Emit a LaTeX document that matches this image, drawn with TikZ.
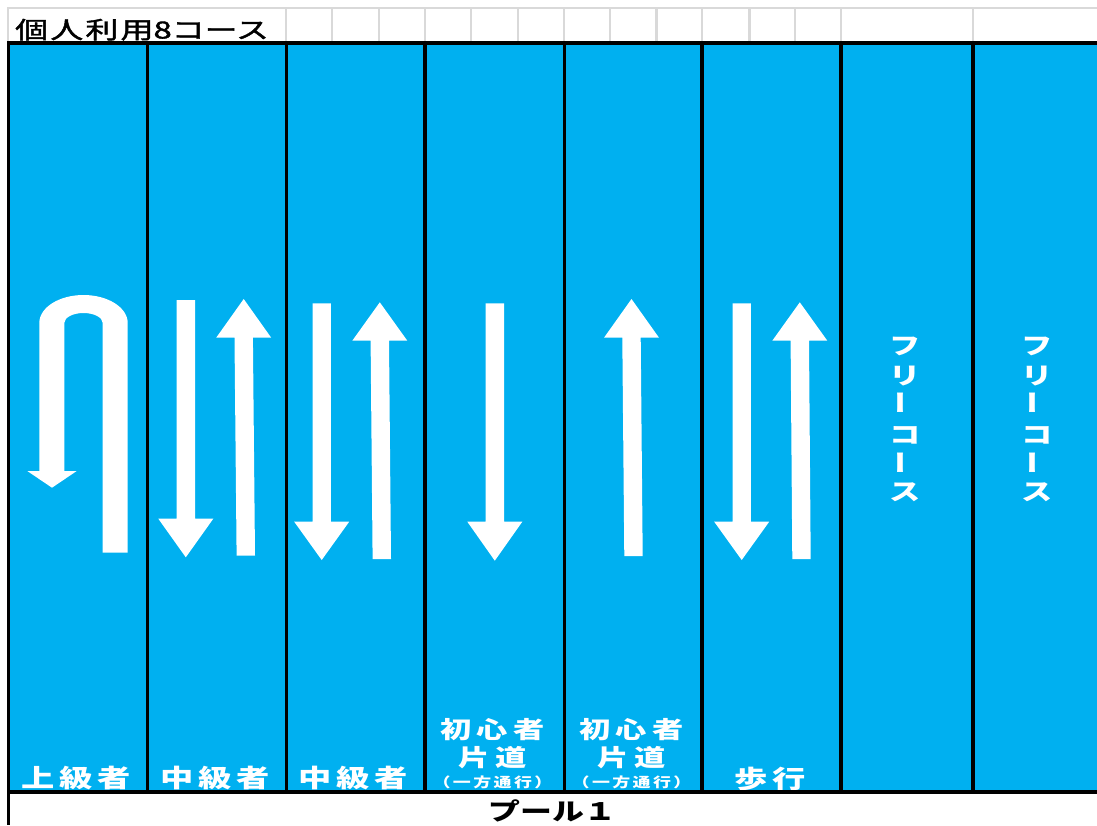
\documentclass[tikz,border=0pt]{standalone}
\usepackage{fontspec}
\usepackage{graphicx}
\newfontfamily\jp{Noto Sans CJK JP}
\newfontfamily\jpm{Noto Sans CJK JP}[FakeBold=1.5]
\definecolor{pool}{HTML}{00B0F0}
\definecolor{gridgray}{HTML}{D9D9D9}
\newcommand\widetext[1]{\scalebox{1.33}[1]{#1}}
\newcommand\laneDown[4]{%
  \fill[arrowfill] ({#1-9.2},{#2}) -- ({#1+9.2},{#2}) -- ({#1+9.2},{#3}) -- ({#1+27.5},{#3})
    -- ({#1},{#4}) -- ({#1-27.5},{#3}) -- ({#1-9.2},{#3}) -- cycle;}
\newcommand\laneUp[5]{%
  \fill[arrowfill] ({#2-9.2},{#5}) -- ({#2+9.2},{#5}) -- ({#1+9.2},{#4}) -- ({#1+27.5},{#4})
    -- ({#1},{#3}) -- ({#1-27.5},{#4}) -- ({#1-9.2},{#4}) -- cycle;}
\begin{document}
\begin{tikzpicture}[x=1pt,y=-1pt,
  gridline/.style={draw=gridgray,line width=2.2pt},
  laneline/.style={draw=black,line width=3.2pt},
  arrowfill/.style={fill=white,draw=none},
  lanelabel/.style={text=white,inner sep=0pt,anchor=base,font=\jp\bfseries\fontsize{23.5}{24}\selectfont},
  biglabel/.style={lanelabel,font=\jp\bfseries\fontsize{25}{26}\selectfont},
  smalllabel/.style={text=white,inner sep=0pt,anchor=base,font=\jp\bfseries\fontsize{13.5}{14}\selectfont},
  freechar/.style={text=white,inner sep=0pt,font=\jp\bfseries\fontsize{23.5}{24}\selectfont},
]
\useasboundingbox (0,0) rectangle (1097,825);
\fill[white] (0,0) rectangle (1097,825);
% pool
\fill[pool] (9,43) rectangle (1097,792);
% header grid
\draw[gridline] (7,7.7) -- (1097,7.7);
\foreach \x in {8,286.2,332,379,425,471,518,564,610,656.5,702,749.5,795,841,973}
  \draw[gridline] (\x,7.7) -- (\x,43);
% title
\node[anchor=base west,inner sep=0pt,font=\jpm\fontsize{23.5}{24}\selectfont] (title) at (15,38.5)
  {\scalebox{1.4}[1]{個\hspace{1.6pt}人\hspace{1.6pt}利\hspace{1.6pt}用8コース}};
% lane labels (clipped by the bottom edge of the pool)
\begin{scope}
\clip (9,43) rectangle (1097,790.2);
\node[biglabel] (l1) at (76.5,787) {\widetext{上\hspace{3.5pt}級\hspace{3.5pt}者}};
\node[biglabel] (l2) at (215.5,787) {\widetext{中\hspace{3.5pt}級\hspace{3.5pt}者}};
\node[biglabel] (l3) at (353.5,787) {\widetext{中\hspace{3.5pt}級\hspace{3.5pt}者}};
\node[lanelabel] (l4a) at (492.5,738.5) {\widetext{初\hspace{4pt}心\hspace{4pt}者}};
\node[lanelabel] (l4b) at (492.5,766.5) {\widetext{片\hspace{4pt}道}};
\node[smalllabel] (l4c) at (492.5,787.2) {\widetext{（\hspace{1.8pt}一\hspace{1.8pt}方\hspace{1.8pt}通\hspace{1.8pt}行\hspace{1.8pt}）}};
\node[lanelabel] (l5a) at (631.5,738.5) {\widetext{初\hspace{4pt}心\hspace{4pt}者}};
\node[lanelabel] (l5b) at (631.5,766.5) {\widetext{片\hspace{4pt}道}};
\node[smalllabel] (l5c) at (631.5,787.2) {\widetext{（\hspace{1.8pt}一\hspace{1.8pt}方\hspace{1.8pt}通\hspace{1.8pt}行\hspace{1.8pt}）}};
\node[biglabel] (l6) at (770,788.5) {\widetext{歩\hspace{3.5pt}行}};
\end{scope}
% free course vertical texts
\foreach \c/\y [count=\i] in {フ/346.5,リ/376,{\rotatebox[origin=c]{90}{ー}}/402.5,コ/435,{\rotatebox[origin=c]{90}{ー}}/462.5,ス/492.5}{
  \node[freechar] (fa\i) at (905,\y) {\widetext{\c}};
  \node[freechar] (fb\i) at (1037,\y) {\widetext{\c}};
}
% U-turn arrow (lane 1)
\fill[arrowfill] (102.7,552.7) -- (127.7,552.7) -- (127.7,323)
  .. controls (127.7,307.5) and (107.9,295) .. (83.5,295)
  .. controls (59.1,295) and (39.3,307.5) .. (39.3,323)
  -- (39.3,471) -- (27.3,471) -- (52,487.7) -- (76.7,471) -- (64.3,471) -- (64.3,323)
  .. controls (64.3,317.5) and (72.9,313) .. (83.5,313)
  .. controls (94.1,313) and (102.7,317.5) .. (102.7,323) -- cycle;
% straight arrows
\laneDown{185.8}{300}{518.7}{557.3}
\laneUp{243.7}{245.8}{299}{337.7}{555.7}
\laneDown{321.7}{303.3}{521.7}{560}
\laneUp{379.8}{381.8}{302.3}{340.7}{559}
\laneDown{494.8}{303.3}{521.7}{560.7}
\laneUp{631.5}{633.5}{299}{337.7}{556}
\laneDown{741.7}{303.3}{521.7}{560}
\laneUp{799.8}{801.5}{302.3}{340.7}{559}
% lane lines
\foreach \x in {147.3,286.2,425,564.5,702,841,973}
  \draw[laneline] (\x,43) -- (\x,792);
\draw[draw=black,line width=3.8pt] (7.5,43) -- (1097,43);
\draw[draw=black,line width=4pt] (7.5,792) -- (1097,792);
\draw[draw=black,line width=2.7pt] (8.7,41) -- (8.7,825);
% pool name
\node[anchor=base,inner sep=0pt,font=\jp\bfseries\fontsize{24}{26}\selectfont] (poolname) at (552.5,820)
  {\widetext{プール１}};
\end{tikzpicture}
\end{document}
